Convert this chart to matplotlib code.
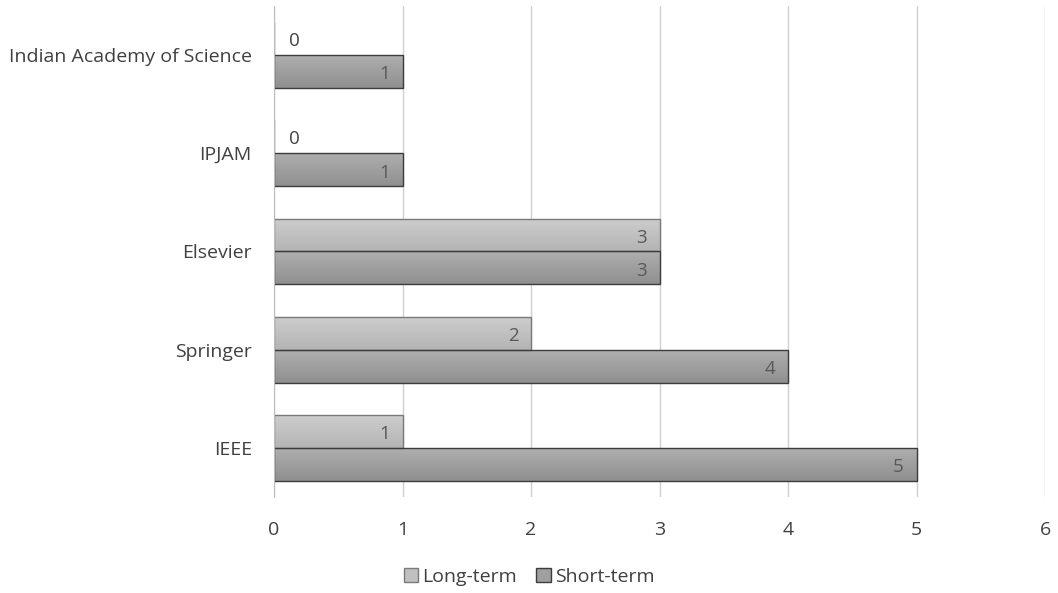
import numpy as np
import matplotlib
matplotlib.use("Agg")
import matplotlib.pyplot as plt
from matplotlib.colors import LinearSegmentedColormap
from matplotlib.patches import Patch

publishers = ["IEEE", "Springer", "Elsevier", "IPJAM", "Indian Academy of Science"]
long_term = [1, 2, 3, 0, 0]
short_term = [5, 4, 3, 1, 1]
x_ticks = [0, 1, 2, 3, 4, 5, 6]

plt.rcParams["font.family"] = ["Open Sans", "DejaVu Sans"]

fig = plt.figure(figsize=(10.58, 5.93), dpi=100)
ax = fig.add_axes([0.259, 0.162, 0.729, 0.828])

h = 0.335
y = np.arange(len(publishers))

long_cmap = LinearSegmentedColormap.from_list("lt", ["#cdcdcd", "#b4b4b4"])
short_cmap = LinearSegmentedColormap.from_list("st", ["#afafaf", "#8f8f8f"])


def shaded_bars(ypos, vals, cmap, edge):
    bars = ax.barh(ypos, vals, height=h, color="none", edgecolor=edge,
                   linewidth=1.0, zorder=3)
    grad = np.linspace(0, 1, 64).reshape(-1, 1)
    for b in bars:
        w = b.get_width()
        if w <= 0:
            continue
        x0, y0 = b.get_x(), b.get_y()
        im = ax.imshow(grad, cmap=cmap, aspect="auto",
                       extent=(x0, x0 + w, y0, y0 + b.get_height()),
                       origin="upper", zorder=2)
        im.set_clip_path(b)
    return bars


long_bars = shaded_bars(y + h / 2, long_term, long_cmap, "#7a7a7a")
short_bars = shaded_bars(y - h / 2, short_term, short_cmap, "#3c3c3c")

for bars, vals in ((long_bars, long_term), (short_bars, short_term)):
    for b, v in zip(bars, vals):
        cy = b.get_y() + b.get_height() / 2
        if v == 0:
            ax.text(0.16, cy - 0.02, str(v), ha="center", va="center",
                    fontsize=13.5, color="#404040", zorder=4)
        else:
            ax.text(v - 0.1, cy - 0.03, str(v), ha="right", va="center",
                    fontsize=13.5, color="#595959", zorder=4)

ax.set_xlim(0, 6)
ax.set_ylim(-0.5, 4.5)
ax.set_xticks(x_ticks)
ax.set_yticks(y)
ax.set_yticklabels(publishers)
ax.tick_params(axis="both", length=0, labelsize=14, colors="#404040")
ax.tick_params(axis="x", pad=17)
ax.tick_params(axis="y", pad=16)
ax.xaxis.grid(True, color="#cfcfcf", linewidth=1.0, zorder=0)
ax.set_axisbelow(True)
for side in ("top", "right", "bottom"):
    ax.spines[side].set_visible(False)
ax.spines["left"].set_color("#bdbdbd")
ax.spines["left"].set_zorder(5)

handles = [Patch(facecolor="#c0c0c0", edgecolor="#7a7a7a", label="Long-term"),
           Patch(facecolor="#9f9f9f", edgecolor="#3c3c3c", label="Short-term")]
fig.legend(handles=handles, loc="center", bbox_to_anchor=(0.5, 0.027),
           ncol=2, frameon=False, fontsize=14, handlelength=0.75,
           handleheight=0.75, handletextpad=0.2, columnspacing=1.0,
           labelcolor="#404040")

fig.savefig("out.png", dpi=100, facecolor="white")
